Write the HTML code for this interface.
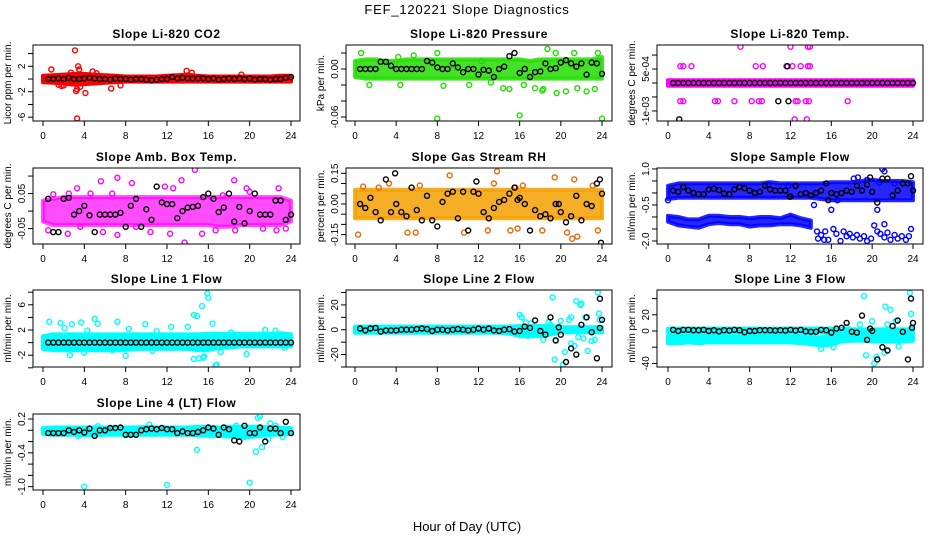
<!DOCTYPE html>
<html><head><meta charset="utf-8"><style>
html,body{margin:0;padding:0;background:#fff;}
svg{display:block;font-family:"Liberation Sans",sans-serif;}
</style></head><body>
<svg id="chart" width="936" height="540" viewBox="0 0 936 540" xmlns="http://www.w3.org/2000/svg">
<rect width="936" height="540" fill="#fff"/>
<text x="467" y="14" font-size="13" letter-spacing="0.8" text-anchor="middle">FEF_120221  Slope Diagnostics</text>
<text x="467" y="531" font-size="13" text-anchor="middle">Hour of Day (UTC)</text>
</svg>
<script>
const blackHours=[0.5,1,1.5,2,2.5,3,3.5,4,4.5,5,5.5,6,6.5,7,7.5,8,8.5,9,9.5,10,10.5,11,11.5,12,12.5,13,13.5,14,14.5,15,15.5,16,16.5,17,17.5,18,18.5,19,19.5,20,20.5,21,21.5,22,22.5,23,23.5,24];
const bandHours=[0,1,2,3,4,5,6,7,8,9,10,11,12,13,14,15,16,17,18,19,20,21,22,23,24];
const xTicks=[0,4,8,12,16,20,24];

// Panel 1: CO2
const co2BandHi=[0.5,0.6,0.7,0.8,0.8,0.7,0.6,0.5,0.4,0.4,0.4,0.4,0.5,0.6,0.7,0.5,0.4,0.4,0.4,0.4,0.4,0.4,0.4,0.5,0.5];
const co2BandLo=[-0.5,-0.6,-0.7,-0.9,-0.8,-0.7,-0.6,-0.5,-0.4,-0.4,-0.4,-0.4,-0.4,-0.4,-0.4,-0.4,-0.4,-0.4,-0.4,-0.4,-0.4,-0.4,-0.4,-0.4,-0.4];
const co2Points=[[3.1,4.5],[3.3,-6.2],[0.8,1.5],[3.4,2.0],[3.5,1.5],[3.3,-1.6],[4.1,-2.2],[6.6,-1.5],[7.5,-1],[13.9,1.3],[14.4,1.0],[19.2,0.7],[1.5,-0.9],[2.0,-1.0],[4.8,1.2],[3.2,-1.9],[2.7,1.0],[3.6,-1.2],[5.2,0.9],[1.8,-1.1]];
const co2Black=[0,0,0.1,0,0.2,0,0,0.1,0.2,0.1,0,0,-0.1,0.1,0,0,-0.1,0,0,-0.1,-0.2,-0.1,0,0,0.3,0.1,0.2,0.1,0.1,0.1,0.1,0,0.1,-0.1,0,0.1,0,0.1,0,0.1,-0.1,0,0,-0.1,0,0,0.2,0.3];
// Panel 2: Pressure
const presBandHi=[0.010,0.012,0.012,0.010,0.010,0.012,0.012,0.012,0.012,0.012,0.012,0.012,0.012,0.012,0.012,0.012,0.012,0.010,0.012,0.012,0.012,0.012,0.012,0.012,0.015];
const presBandLo=[-0.010,-0.012,-0.012,-0.012,-0.012,-0.012,-0.012,-0.012,-0.012,-0.012,-0.012,-0.012,-0.012,-0.012,-0.012,-0.012,-0.012,-0.012,-0.012,-0.012,-0.012,-0.012,-0.012,-0.012,-0.012];
const presPoints=[[0.6,0.02],[4.2,0.015],[5.7,0.017],[8,0.02],[16,-0.058],[8,-0.062],[24,-0.062],[17.7,0.035],[18.7,0.025],[19.5,0.02],[21.3,0.02],[23.6,0.02],[18.2,-0.027],[18.3,-0.025],[19.6,-0.03],[20.5,-0.028],[22.5,-0.028],[14.4,-0.024],[15,-0.025],[16.4,-0.02],[17.5,-0.024],[1.4,-0.02],[4.4,-0.02],[8.6,-0.021],[11.1,-0.02],[13.2,-0.017],[21.6,-0.024],[23.3,-0.025],[12.3,0.01]];
const presBlack=[0,0,0,0,0.009,0.009,0.004,0.0,0.0,0,0,0,0,0.01,0.008,0.002,0,0,0.007,0.002,-0.004,0,0,-0.007,-0.001,-0.002,-0.01,0,0.003,0.016,0.02,-0.005,0,-0.01,-0.004,-0.003,0.007,0,0.001,0.008,0.011,0.007,0.003,0.007,-0.007,0.008,0.007,-0.006];
// Panel 3: Temp
const tempBandHi=[1e-4,1e-4,1e-4,1e-4,1e-4,1e-4,1e-4,1e-4,1e-4,1e-4,1e-4,1e-4,1e-4,1e-4,1e-4,1e-4,1e-4,1e-4,1e-4,1e-4,1e-4,1e-4,1e-4,1e-4,1e-4];
const tempBandLo=[-1e-4,-1e-4,-1e-4,-1e-4,-1e-4,-1e-4,-1e-4,-1e-4,-1e-4,-1e-4,-1e-4,-1e-4,-1e-4,-1e-4,-1e-4,-1e-4,-1e-4,-1e-4,-1e-4,-1e-4,-1e-4,-1e-4,-1e-4,-1e-4,-1e-4];
const tempPoints=[[7.1,1.3e-3],[12,1.3e-3],[13.7,1.3e-3],[13.9,1.3e-3],[1.2,6e-4],[1.5,6e-4],[2.3,6e-4],[8.6,6e-4],[9.3,6e-4],[11.6,6e-4],[12.2,6e-4],[13,6e-4],[13.7,6e-4],[13.9,6e-4],[1.2,-6.5e-4],[1.5,-6.5e-4],[4.6,-6.5e-4],[4.9,-6.5e-4],[6.5,-6.5e-4],[8.2,-6.5e-4],[8.9,-6.5e-4],[9.2,-6.5e-4],[12.5,-6.5e-4],[12.7,-6.5e-4],[13.5,-6.5e-4],[13.8,-6.5e-4],[17.6,-6.5e-4],[12.4,-1.3e-3],[13.6,-1.3e-3]];
const tempBlack=[0,0,0,0,0,0,0,0,0,0,0,0,0,0,0,0,0,0,0,0,0,0,0,0,0,0,0,0,0,0,0,0,0,0,0,0,0,0,0,0,0,0,0,0,0,0,0,0];
const tempBlackExtra=[[11.7,6e-4],[10.8,-6.5e-4],[11.8,-6.5e-4],[1.1,-1.3e-3]];
// Panel 4: Amb box temp
const ambBandHi=[0.03,0.035,0.04,0.04,0.04,0.04,0.04,0.04,0.04,0.04,0.04,0.04,0.04,0.04,0.04,0.04,0.04,0.04,0.04,0.04,0.04,0.04,0.04,0.04,0.03];
const ambBandLo=[-0.03,-0.04,-0.04,-0.04,-0.04,-0.04,-0.04,-0.04,-0.04,-0.04,-0.04,-0.04,-0.04,-0.04,-0.04,-0.04,-0.04,-0.045,-0.045,-0.04,-0.04,-0.04,-0.04,-0.04,-0.03];
const ambPoints=[[14.7,0.118],[13.7,-0.09],[7.2,0.095],[5.6,0.085],[8.6,0.08],[13.4,0.088],[18.5,0.088],[11.8,0.07],[1.0,0.048],[12.6,0.065],[19.7,0.065],[22.8,0.065],[3.3,0.065],[2.5,0.05],[0.5,-0.055],[2.4,-0.065],[7.2,-0.068],[5.8,-0.06],[12.3,-0.065],[15.4,-0.065],[18.6,-0.055],[21.3,-0.05],[22.6,-0.055],[10.4,-0.06],[16.7,-0.055],[3.6,-0.045],[9,-0.045],[6.7,0.05],[17.4,0.045],[20,0.055],[23.5,-0.05],[4.6,0.05]];
const ambBlack=[0.035,-0.06,-0.06,0.035,0.038,-0.01,0.0,0.015,-0.012,-0.06,-0.01,-0.01,-0.01,-0.01,-0.005,-0.045,0.015,0.035,-0.045,0.005,-0.025,0.07,0.025,0.02,0.02,-0.02,0.0,0.01,0.012,0.015,0.04,0.05,0.035,-0.003,0.01,0.05,-0.03,0.012,-0.035,0.0,0.05,-0.01,-0.01,-0.01,0.03,0.03,-0.025,-0.01];
// Panel 5: RH
const rhBandHi=[0.07,0.07,0.07,0.07,0.07,0.07,0.07,0.07,0.07,0.07,0.07,0.07,0.07,0.07,0.07,0.07,0.07,0.07,0.07,0.07,0.07,0.07,0.07,0.07,0.07];
const rhBandLo=[-0.07,-0.07,-0.07,-0.07,-0.07,-0.07,-0.07,-0.07,-0.07,-0.07,-0.07,-0.07,-0.07,-0.07,-0.07,-0.07,-0.07,-0.07,-0.07,-0.07,-0.07,-0.07,-0.07,-0.07,-0.07];
const rhPoints=[[0.3,-0.15],[0.8,0.085],[8.8,-0.21],[9.2,0.14],[13.8,0.16],[13.5,0.1],[14.7,-0.24],[3.3,0.1],[2.3,0.08],[5.1,-0.14],[5.9,-0.14],[10.6,-0.14],[12.9,-0.13],[15.1,-0.13],[15.8,-0.12],[18.2,-0.13],[20.6,-0.14],[21.1,-0.17],[21.6,-0.16],[23.1,0.09],[19.4,0.13],[15.6,0.08],[23.6,-0.13],[6.3,0.09],[21.3,0.12],[16.3,0.09]];
const rhBlack=[0,-0.02,0.03,-0.04,-0.08,0.12,-0.04,0.0,-0.04,-0.06,0.08,-0.03,-0.08,0.04,-0.08,-0.11,0.01,0.05,0.06,-0.07,0.06,-0.13,0.06,0.05,-0.04,-0.07,-0.02,0.01,0.02,0.05,0.08,0.03,0.0,-0.13,-0.03,-0.06,-0.05,-0.07,0.0,-0.04,-0.09,-0.06,0.04,-0.08,0.0,-0.01,0.10,0.05];
const rhBlackExtra=[[3.9,0.15],[11.8,0.11],[23.8,0.12],[23.9,-0.19],[15.8,0.02],[19.8,0.0]];
// Panel 6: Sample flow
const sampleBandHi=[0.3,0.4,0.4,0.4,0.4,0.4,0.4,0.4,0.4,0.4,0.45,0.4,0.4,0.4,0.4,0.4,0.45,0.45,0.45,0.5,0.55,0.5,0.5,0.5,0.45];
const sampleBandLo=[-0.25,-0.2,-0.2,-0.2,-0.2,-0.2,-0.2,-0.2,-0.2,-0.2,-0.2,-0.2,-0.2,-0.2,-0.2,-0.25,-0.3,-0.3,-0.3,-0.3,-0.3,-0.3,-0.3,-0.3,-0.3];
const sampleBand2Hi=[-0.95,-1.0,-1.1,-1.1,-0.95,-0.95,-1.0,-1.0,-1.05,-1.0,-1.0,-1.05,-0.9,-1.05,-1.15,null,null,null,null,null,null,null,null,null,null];
const sampleBand2Lo=[-1.2,-1.35,-1.4,-1.45,-1.3,-1.25,-1.3,-1.3,-1.4,-1.35,-1.35,-1.3,-1.3,-1.35,-1.45,null,null,null,null,null,null,null,null,null,null];
const samplePoints=[[14.7,-1.9],[15,-1.75],[15.3,-1.95],[15.7,-1.95],[16.2,-1.5],[16.5,-1.7],[16.9,-2.0],[17.2,-1.6],[17.5,-1.8],[17.8,-1.7],[18.1,-1.85],[18.5,-1.75],[18.8,-1.9],[19.2,-1.8],[19.5,-2.0],[19.9,-1.9],[20.2,-1.35],[20.5,-1.6],[20.8,-1.7],[21.2,-1.85],[21.5,-1.65],[21.8,-1.95],[22.2,-1.75],[22.5,-1.9],[22.9,-1.8],[23.3,-1.95],[23.6,-1.8],[23.8,-1.5],[16,-0.7],[20.5,-0.7],[21.2,-1.3],[0,-0.3],[21,1.0],[21.2,0.9],[18.2,0.6],[18.6,0.65],[19.5,0.55],[20.7,0.45],[22.2,0.4],[24,0.1],[14.3,-0.5],[16.6,-0.3],[9.8,0.35],[11.8,0.3],[14.6,-1.6],[15.4,-1.6]];
const sampleBlack=[0.1,0.05,0.25,0.1,0.0,-0.05,-0.05,0.15,0.18,0.12,-0.02,-0.05,0.15,0.25,0.2,0.1,0,0.05,0.3,0.15,0.1,0.1,0.1,-0.15,0.3,-0.05,0,-0.1,0.0,0.1,0.4,0.0,-0.05,0.0,0.1,0.05,0.3,0.1,0.35,0.05,-0.4,0.6,0.6,-0.1,0.1,0.4,0.4,0.1];
const sampleBlackExtra=[[19.8,0.65],[23.8,0.7],[15.7,-0.3],[11.9,-0.15]];
// Panel 7: Line 1
const line1BandHi=[1.0,1.3,1.3,1.3,1.3,1.3,1.3,1.3,1.3,1.3,1.3,1.3,1.3,1.3,1.3,1.3,1.4,1.4,1.4,1.4,1.4,1.4,1.4,1.5,1.3];
const line1BandLo=[-1.0,-1.2,-1.2,-1.2,-1.2,-1.2,-1.2,-1.2,-1.2,-1.0,-1.0,-1.0,-1.0,-1.0,-1.0,-1.2,-1.2,-0.8,-0.8,-0.6,-0.6,-0.6,-0.6,-0.6,-0.6];
const line1Points=[[0.6,3.3],[1.7,3.1],[2.8,2.9],[3.7,3.2],[5.0,3.8],[5.3,3.0],[7.2,3.3],[8.3,2.2],[9.9,2.9],[12.4,2.5],[14.0,2.5],[14.6,4.4],[14.9,4.2],[15.4,5.8],[15.9,7.8],[16.0,7.1],[16.4,3.0],[16.8,-3.5],[16.7,-3.6],[17.2,-1.5],[15.1,-2.5],[15.5,-2.4],[15.6,-2.2],[14.6,-2.6],[8.0,-2.1],[2.6,-2],[4.0,-1.6],[19.7,-1.8],[6.7,-1.2],[10.6,-1.3],[23.4,-0.8],[2.1,2.3],[4.3,1.9],[11,1.8],[21.5,2.0],[18.2,1.6],[22.5,1.9]];
const line1Black=[0,0,0,0,0,0,0,0,0,0,0,0,0,0,0,0,0,0,0,0,0,0,0,0,0,0,0,0,0,0,0,0,0,0,0,0,0,0,0,0,0,0,0,0,0,0,0,0];
// Panel 8: Line 2
const line2BandHi=[2.5,2.5,2.5,2.5,2.5,2.5,2.5,2.5,2.5,2.5,2.5,2.5,2.5,2.5,2.5,2.5,3,3,3,3,2,2,2,2,2];
const line2BandLo=[-2.5,-2.5,-2.5,-2.5,-2.5,-2.5,-2.5,-2.5,-2.5,-2.5,-2.5,-2.5,-2.5,-2.5,-2.5,-3,-5,-5,-5,-4,-2,-2,-2,-2,-2];
const line2Points=[[16,12],[16.2,10],[16.6,6],[19.2,26],[19.4,-24],[20.2,-28],[20.4,-18],[20.8,8],[21,10],[21.5,23],[21.9,20],[22,21],[22.2,-7],[22.6,-17],[23,-9],[23.3,-8],[23.6,30],[23.7,13],[23.8,8],[21.3,-13],[21,-11],[18.3,-8],[18.8,6],[19.5,-9],[20,7],[17.1,5],[21.7,-6],[22.4,10],[16.8,-5],[19,4]];
const line2Black=[1,-0.5,1,1.5,-1.5,-0.5,-0.5,-0.5,0,0,0,0.5,1,0.5,-1,0,0,-0.5,0,0.5,0,-0.5,0,1,0,1,-0.5,-1,0,0.5,-1.5,-1,2.5,1.5,7.5,-1,-4,10,-8.5,-4,-26,-15,-20,4,10,-2,-23,8];
const line2BlackExtra=[[23.8,25],[23.8,1.5],[19.8,2]];
// Panel 9: Line 3
const line3BandHi=[3,3,3,3,3,3,3,3,3,3,3,3,3,3,3,3,3,3,2,2,2,2,2,2,2];
const line3BandLo=[-2,-2,-2,-2,-2,-2,-2,-2,-2,-2,-2,-2,-2,-2,-2,-2,-3,-3,-3,-3,-3,-3,-3,-3,-3];
const line3Band2Hi=[-6,-6,-6,-6,-6,-6,-7,-7,-6,-6,-6,-6,-6,-7,-7,-8,-7,-6,-5,-5,-6,-6,-6,-6,-6];
const line3Band2Lo=[-15,-15,-14,-15,-14,-14,-14,-14,-14,-14,-14,-14,-14,-15,-16,-18,-17,-13,-12,-12,-13,-13,-13,-13,-12];
const line3Points=[[19.2,43],[19.4,-30],[20.2,-40],[20.4,-32],[20,12],[21.3,30],[21.8,26],[21.2,-27],[21,-20],[21.5,8],[22.3,12],[22.6,-19],[23.7,47],[23.8,21],[23.9,2],[15,-22],[16.2,-20],[16,-5],[17.5,5],[18.8,8],[20.3,-8]];
const line3Black=[1.5,0,1.5,1.5,1,1,1.5,0,1,-0.5,1,0.5,1.5,1,-1.5,0,0,1,1,1,0.5,1,0.5,1.5,0.5,1.5,-0.5,-1,-1,1.5,1,-2,3,4,10,-1,-2,19,-11,0,-35,-20,-24,6,13,-1,-35,10];
const line3BlackExtra=[[23.8,40],[23.9,4],[19.8,3]];
// Panel 10: Line 4
const line4BandHi=[0.04,0.05,0.05,0.05,0.05,0.05,0.05,0.05,0.05,0.05,0.06,0.05,0.05,0.05,0.05,0.06,0.06,0.05,0.06,0.06,0.06,0.06,0.05,0.05,0.04];
const line4BandLo=[-0.06,-0.08,-0.08,-0.08,-0.09,-0.09,-0.08,-0.08,-0.08,-0.08,-0.08,-0.08,-0.08,-0.08,-0.08,-0.09,-0.1,-0.1,-0.11,-0.12,-0.12,-0.1,-0.08,-0.08,-0.06];
const line4Points=[[4,-1.0],[12,-0.97],[20,-0.93],[14.9,-0.35],[20.6,-0.38],[20.8,0.22],[21,0.25],[21.2,-0.3],[22,0.12],[10.3,0.1],[5.3,0.07],[3.4,-0.1],[18.7,0.08],[21.8,-0.15],[22.5,0.08],[23.2,-0.12],[19.5,-0.12]];
const line4Black=[-0.05,-0.05,-0.05,-0.05,0,-0.03,0,-0.04,0.03,-0.1,0,0,0.04,0.04,0.05,-0.08,-0.08,-0.08,0,0.02,0.03,0.02,0.04,0.02,0.02,-0.05,-0.02,-0.05,-0.05,-0.03,0,0.05,0.03,-0.08,0.05,0.02,-0.18,-0.2,0.08,-0.05,-0.05,0.05,-0.2,0.03,0.03,-0.05,0.15,-0.05];

const svg=document.getElementById('chart');
const NS='http://www.w3.org/2000/svg';
function mk(tag,attrs,parent){const e=document.createElementNS(NS,tag);for(const k in attrs)e.setAttribute(k,attrs[k]);(parent||svg).appendChild(e);return e;}

const colL=[33,346,657],colR=[300,612,923],colX0=[43,355,668],colX24=[291,602,913];
const rowT=[45,168,290,414],rowB=[121,244,367,490];

const panels=[
 {name:'co2',title:'Slope Li-820 CO2',ylab:'Licor ppm per min.',r:0,c:0,ymin:-6.6,ymax:5.35,ticks:[4,2,0,-2,-4,-6],labels:['','2','','-2','','-6'],color:'#ff0000',bands:[[co2BandHi,co2BandLo]],pts:co2Points,black:co2Black,extra:[]},
 {name:'pressure',title:'Slope Li-820 Pressure',ylab:'kPa per min.',r:0,c:1,ymin:-0.065,ymax:0.03,ticks:[0.02,0,-0.02,-0.04,-0.06],labels:['','0.00','','','-0.06'],color:'#22dd00',bands:[[presBandHi,presBandLo]],pts:presPoints,black:presBlack,extra:[],op:0.85},
 {name:'temp',title:'Slope Li-820 Temp.',ylab:'degrees C per min.',r:0,c:2,ymin:-1.36e-3,ymax:1.36e-3,ticks:[1e-3,5e-4,0,-5e-4,-1e-3],labels:['','5e-04','','','-1e-03'],color:'#ff00ff',bands:[[tempBandHi,tempBandLo]],pts:tempPoints,black:tempBlack,extra:tempBlackExtra},
 {name:'amb-box-temp',title:'Slope Amb. Box Temp.',ylab:'degrees C per min.',r:1,c:0,ymin:-0.094,ymax:0.123,ticks:[0.1,0.05,0,-0.05],labels:['','0.05','','-0.05'],color:'#ff00ff',bands:[[ambBandHi,ambBandLo]],pts:ambPoints,black:ambBlack,extra:[],op:0.7},
 {name:'gas-rh',title:'Slope Gas Stream RH',ylab:'percent per min.',r:1,c:1,ymin:-0.196,ymax:0.176,ticks:[0.15,0.1,0.05,0,-0.05,-0.1,-0.15],labels:['0.15','','','0.00','','','-0.15'],color:'#f5a000',pcolor:'#ee6600',bands:[[rhBandHi,rhBandLo]],pts:rhPoints,black:rhBlack,extra:rhBlackExtra,op:0.85},
 {name:'sample-flow',title:'Slope Sample Flow',ylab:'ml/min per min.',r:1,c:2,ymin:-2.125,ymax:1.04,ticks:[1,0.5,0,-0.5,-1,-1.5,-2],labels:['1.0','','','-0.5','','','-2.0'],color:'#0000ff',bands:[[sampleBandHi,sampleBandLo],[sampleBand2Hi,sampleBand2Lo]],pts:samplePoints,black:sampleBlack,extra:sampleBlackExtra,op:0.85},
 {name:'line1-flow',title:'Slope Line 1 Flow',ylab:'ml/min per min.',r:2,c:0,ymin:-3.87,ymax:8.35,ticks:[8,6,4,2,0,-2,-4],labels:['','6','','2','','-2',''],color:'#00ffff',bands:[[line1BandHi,line1BandLo]],pts:line1Points,black:line1Black,extra:[]},
 {name:'line2-flow',title:'Slope Line 2 Flow',ylab:'ml/min per min.',r:2,c:1,ymin:-30,ymax:32,ticks:[30,20,10,0,-10,-20,-30],labels:['','20','','0','','-20',''],color:'#00ffff',bands:[[line2BandHi,line2BandLo]],pts:line2Points,black:line2Black,extra:line2BlackExtra},
 {name:'line3-flow',title:'Slope Line 3 Flow',ylab:'ml/min per min.',r:2,c:2,ymin:-44.4,ymax:50.6,ticks:[40,20,0,-20,-40],labels:['','20','0','','-40'],color:'#00ffff',bands:[[line3BandHi,line3BandLo],[line3Band2Hi,line3Band2Lo]],pts:line3Points,black:line3Black,extra:line3BlackExtra},
 {name:'line4-flow',title:'Slope Line 4 (LT) Flow',ylab:'ml/min per min.',r:3,c:0,ymin:-1.06,ymax:0.289,ticks:[0.2,0,-0.2,-0.4,-0.6,-0.8,-1.0],labels:['0.2','','','-0.4','','','-1.0'],color:'#00ffff',bands:[[line4BandHi,line4BandLo]],pts:line4Points,black:line4Black,extra:[]}
];

panels.forEach(p=>{
 const L=colL[p.c],R=colR[p.c],T=rowT[p.r],B=rowB[p.r];
 const X=h=>colX0[p.c]+(colX24[p.c]-colX0[p.c])*h/24;
 const Y=v=>B-(v-p.ymin)/(p.ymax-p.ymin)*(B-T);
 const g=mk('g',{});
 
 
 const clipId='clip-'+p.name;
 const cp=mk('clipPath',{id:clipId},g);mk('rect',{x:L,y:T,width:R-L,height:B-T},cp);
 const plot=mk('g',{'clip-path':'url(#'+clipId+')'},g);
 p.bands.forEach((bd,bi)=>{
  const hi=bd[0],lo=bd[1];const up=[],dn=[];
  bandHours.forEach((h,i)=>{if(hi[i]!==null){up.push(X(h).toFixed(1)+','+Y(hi[i]).toFixed(1));dn.unshift(X(h).toFixed(1)+','+Y(lo[i]).toFixed(1));}});
  const poly=mk('polygon',{points:up.concat(dn).join(' '),fill:p.color,stroke:p.color,'stroke-width':4,'stroke-linejoin':'round','fill-opacity':p.op||1,'stroke-opacity':p.op||1},plot);
  
  
 });
 p.pts.forEach(pt=>{
  const c=mk('circle',{cx:X(pt[0]).toFixed(1),cy:Y(pt[1]).toFixed(1),r:2.5,fill:'none',stroke:p.pcolor||p.color,'stroke-width':1.4},plot);
  
  
 });
 blackHours.forEach((h,i)=>{
  const c=mk('circle',{cx:X(h).toFixed(1),cy:Y(p.black[i]).toFixed(1),r:2.5,fill:'none',stroke:'#000','stroke-width':1.4},plot);
  
  
 });
 p.extra.forEach(pt=>{
  const c=mk('circle',{cx:X(pt[0]).toFixed(1),cy:Y(pt[1]).toFixed(1),r:2.5,fill:'none',stroke:'#000','stroke-width':1.4},plot);
  
  
 });
 const box=mk('rect',{x:L,y:T,width:R-L,height:B-T,fill:'none',stroke:'#000','stroke-width':1},g);
 
 
 const t=mk('text',{x:(L+R)/2,y:T-7,'font-size':12,'font-weight':'bold','letter-spacing':0.6,'text-anchor':'middle'},g);
 t.textContent=p.title;
 
 
 xTicks.forEach(h=>{
  mk('line',{x1:X(h),x2:X(h),y1:B,y2:B+5,stroke:'#000'},g);
  const tl=mk('text',{x:X(h),y:B+18,'font-size':10,'text-anchor':'middle'},g);
  tl.textContent=h;
  
  
 });
 p.ticks.forEach((v,i)=>{
  const y=Y(v);
  mk('line',{x1:L-5,x2:L,y1:y,y2:y,stroke:'#000'},g);
  if(p.labels[i]!==''){
   const tl=mk('text',{x:L-8,y:y,'font-size':10,'text-anchor':'middle',transform:'rotate(-90 '+(L-8)+' '+y+')'},g);
   tl.textContent=p.labels[i];
   
   
  }
 });
 const yc=(T+B)/2;
 const yl=mk('text',{x:L-22,y:yc,'font-size':10,'text-anchor':'middle',transform:'rotate(-90 '+(L-22)+' '+yc+')'},g);
 yl.textContent=p.ylab;
 
 
});
</script>
</body></html>
